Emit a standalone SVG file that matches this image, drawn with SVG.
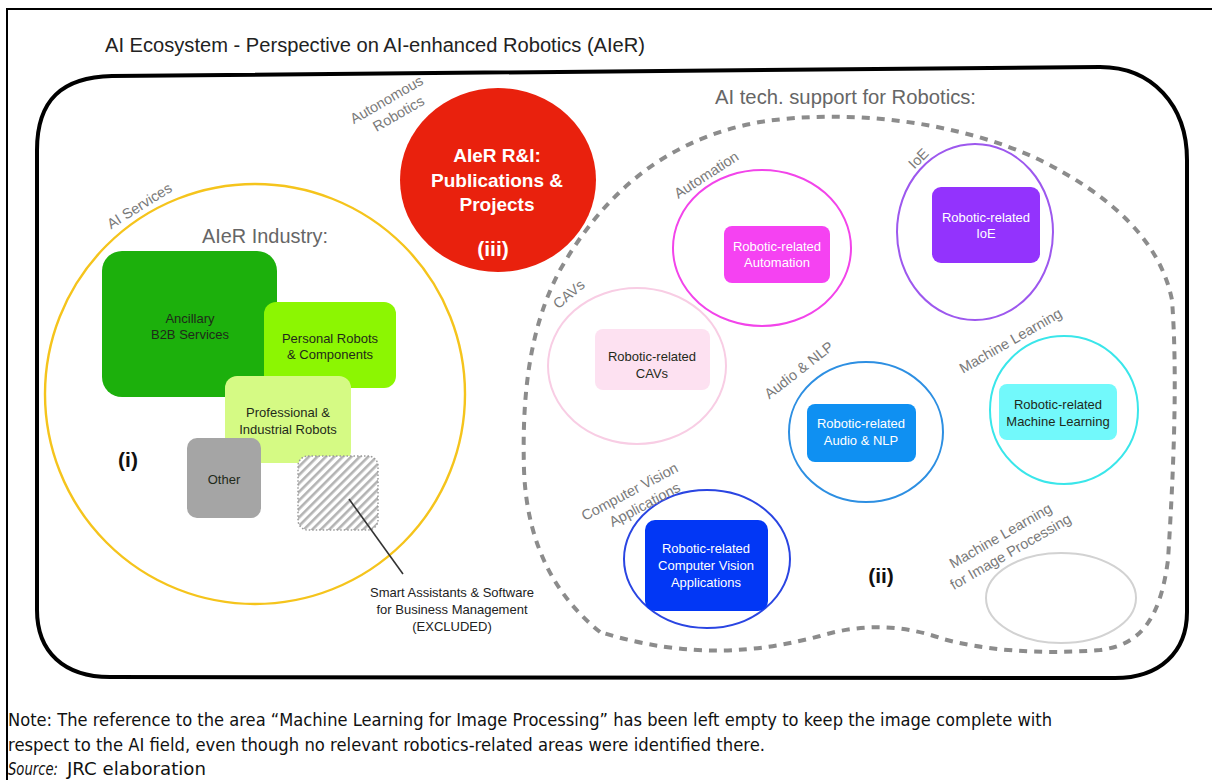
<svg xmlns="http://www.w3.org/2000/svg" width="1212" height="780" viewBox="0 0 1212 780">
  <defs>
    <pattern id="hatch" patternUnits="userSpaceOnUse" width="6" height="6" patternTransform="rotate(45)">
      <rect width="6" height="6" fill="#ffffff"/>
      <rect x="0" y="0" width="2.6" height="6" fill="#b3b3b3"/>
    </pattern>
    <style>
      .sans { font-family: "Liberation Sans", Arial, Helvetica, sans-serif; }
      .tag { font-family: "Liberation Sans", Arial, sans-serif; font-size: 14.5px; fill: #7a7a7a; text-anchor: middle; }
      .head { font-family: "Liberation Sans", Arial, sans-serif; font-size: 20px; fill: #666666; }
      .box-txt { font-family: "Liberation Sans", Arial, sans-serif; font-size: 13px; text-anchor: middle; }
      .dark { fill: #1f2a1a; }
      .white { fill: #ffffff; }
      .roman { font-family: "Liberation Sans", Arial, sans-serif; font-weight: bold; font-size: 21px; fill: #111111; text-anchor: middle; }
      .ring { fill: none; stroke-width: 2; }
      .note { font-family: "DejaVu Sans", "Liberation Sans", sans-serif; font-size: 17px; fill: #111111; }
    </style>
  </defs>

  <rect width="1212" height="780" fill="#ffffff"/>

  <!-- page frame -->
  <path d="M1212 9 H7 V780" fill="none" stroke="#000" stroke-width="2"/>

  <!-- title -->
  <text class="sans" x="105" y="52" font-size="20" fill="#222" textLength="540" lengthAdjust="spacingAndGlyphs">AI Ecosystem - Perspective on AI-enhanced Robotics (AIeR)</text>

  <!-- ecosystem boundary -->
  <path id="ecosystem" d="M37 150 C37 100 62 77 112 76 L1100 67 C1152 67 1187 105 1187 160 L1187 612 C1187 652 1160 678 1115 678 L110 677 C64 677 37 652 37 610 Z" fill="none" stroke="#000" stroke-width="4"/>

  <!-- AI tech support region -->
  <path id="tech-region" d="M600 632 C560 600 527 550 524 470 C522 400 528 330 560 270 C600 200 660 140 760 122 C850 108 960 122 1040 160 C1110 195 1160 240 1172 300 C1178 380 1173 480 1168 560 C1160 620 1140 645 1100 650 C1040 655 980 650 940 638 C900 624 860 624 820 636 C760 652 690 660 600 632 Z" fill="none" stroke="#8c8c8c" stroke-width="4" stroke-dasharray="8 7"/>
  <text class="head" x="715" y="104" textLength="261" lengthAdjust="spacingAndGlyphs">AI tech. support for Robotics:</text>

  <!-- (i) AIeR Industry -->
  <g id="industry">
    <circle cx="255" cy="394" r="210" fill="none" stroke="#f5c41c" stroke-width="2.4"/>
    <text class="tag" transform="translate(142 210) rotate(-32)">AI Services</text>
    <text class="head" x="202" y="243" textLength="126" lengthAdjust="spacingAndGlyphs">AIeR Industry:</text>
    <text class="roman" x="128" y="467">(i)</text>
  </g>

  <g id="ancillary">
    <rect x="102" y="251" width="175" height="146" rx="20" fill="#1cb00c"/>
    <text class="box-txt dark" x="190" y="323">Ancillary</text>
    <text class="box-txt dark" x="190" y="339">B2B Services</text>
  </g>

  <g id="personal">
    <rect x="264" y="302" width="132" height="86" rx="12" fill="#8cf602"/>
    <text class="box-txt dark" x="330" y="343">Personal Robots</text>
    <text class="box-txt dark" x="330" y="359">&amp; Components</text>
  </g>

  <g id="professional">
    <rect x="225" y="376" width="126" height="87" rx="12" fill="#d5fa84"/>
    <text class="box-txt dark" x="288" y="417">Professional &amp;</text>
    <text class="box-txt dark" x="288" y="434">Industrial Robots</text>
  </g>

  <g id="other">
    <rect x="187" y="438" width="74" height="80" rx="10" fill="#a5a5a5"/>
    <text class="box-txt dark" x="224" y="484">Other</text>
  </g>

  <g id="excluded">
    <rect x="298" y="456" width="80" height="74" rx="10" fill="url(#hatch)" stroke="#9a9a9a" stroke-width="1.5" stroke-dasharray="1.5 2"/>
    <text class="box-txt" fill="#222" x="452" y="597">Smart Assistants &amp; Software</text>
    <text class="box-txt" fill="#222" x="452" y="614">for Business Management</text>
    <text class="box-txt" fill="#222" x="452" y="631">(EXCLUDED)</text>
  </g>

  <!-- (iii) research & innovation -->
  <g id="research">
    <ellipse cx="498" cy="180" rx="98" ry="92" fill="#e9210d"/>
    <text class="tag" transform="translate(389 104) rotate(-30)">Autonomous</text>
    <text class="tag" transform="translate(401 118) rotate(-30)">Robotics</text>
    <text class="sans" x="497" y="162" font-size="19" font-weight="bold" fill="#fff" text-anchor="middle">AIeR R&amp;I:</text>
    <text class="sans" x="497" y="187" font-size="19" font-weight="bold" fill="#fff" text-anchor="middle">Publications &amp;</text>
    <text class="sans" x="497" y="211" font-size="19" font-weight="bold" fill="#fff" text-anchor="middle">Projects</text>
    <text class="roman" x="493" y="256" style="fill:#fff">(iii)</text>
  </g>

  <!-- (ii) technology areas -->
  <g id="automation">
    <ellipse class="ring" cx="762" cy="248" rx="89" ry="78" stroke="#f244ea"/>
    <text class="tag" transform="translate(709 179) rotate(-33)">Automation</text>
    <rect x="724" y="226" width="106" height="57" rx="8" fill="#f542f2"/>
    <text class="box-txt white" x="777" y="251">Robotic-related</text>
    <text class="box-txt white" x="777" y="267">Automation</text>
  </g>

  <g id="ioe">
    <ellipse class="ring" cx="975" cy="232" rx="78" ry="88" stroke="#9d58ee"/>
    <text class="tag" transform="translate(922 162) rotate(-45)">IoE</text>
    <rect x="932" y="187" width="108" height="76" rx="9" fill="#9333fd"/>
    <text class="box-txt white" x="986" y="222">Robotic-related</text>
    <text class="box-txt white" x="986" y="238">IoE</text>
  </g>

  <g id="cavs">
    <ellipse class="ring" cx="637" cy="366" rx="89" ry="78" stroke="#f8cde4"/>
    <text class="tag" transform="translate(572 298) rotate(-40)">CAVs</text>
    <rect x="595" y="329" width="115" height="61" rx="8" fill="#fde1f1"/>
    <text class="box-txt dark" x="652" y="361">Robotic-related</text>
    <text class="box-txt dark" x="652" y="378">CAVs</text>
  </g>

  <g id="audio-nlp">
    <ellipse class="ring" cx="866" cy="432" rx="77" ry="70" stroke="#2d8fe2"/>
    <text class="tag" transform="translate(802 374) rotate(-38)">Audio &amp; NLP</text>
    <rect x="807" y="404" width="109" height="58" rx="8" fill="#0f90f2"/>
    <text class="box-txt white" x="861" y="428">Robotic-related</text>
    <text class="box-txt white" x="861" y="445">Audio &amp; NLP</text>
  </g>

  <g id="machine-learning">
    <ellipse class="ring" cx="1064" cy="410" rx="74" ry="74" stroke="#3ae6ea"/>
    <text class="tag" transform="translate(1013 345) rotate(-30)">Machine Learning</text>
    <rect x="999" y="384" width="118" height="56" rx="8" fill="#72f9fb"/>
    <text class="box-txt dark" x="1058" y="409">Robotic-related</text>
    <text class="box-txt dark" x="1058" y="426">Machine Learning</text>
  </g>

  <g id="computer-vision">
    <ellipse class="ring" cx="707" cy="559" rx="83" ry="69" stroke="#2a45e2"/>
    <text class="tag" transform="translate(632 496) rotate(-28)">Computer Vision</text>
    <text class="tag" transform="translate(647 509) rotate(-28)">Applications</text>
    <rect x="645" y="520" width="123" height="91" rx="10" fill="#0237f5"/>
    <text class="box-txt white" x="706" y="553">Robotic-related</text>
    <text class="box-txt white" x="706" y="570">Computer Vision</text>
    <text class="box-txt white" x="706" y="587">Applications</text>
  </g>

  <g id="ml-image">
    <ellipse class="ring" cx="1061" cy="598" rx="75" ry="45" stroke="#d2d2d2"/>
    <text class="tag" transform="translate(1003 540) rotate(-30)">Machine Learning</text>
    <text class="tag" transform="translate(1013 556) rotate(-30)">for Image Processing</text>
  </g>

  <text class="roman" x="881" y="583">(ii)</text>

  <!-- connectors -->
  <g id="connectors">
    <line x1="349" y1="499" x2="403" y2="574" stroke="#333" stroke-width="1.6"/>
  </g>

  <!-- footnote -->
  <text class="note" x="8" y="726" textLength="1044" lengthAdjust="spacingAndGlyphs">Note: The reference to the area “Machine Learning for Image Processing” has been left empty to keep the image complete with</text>
  <text class="note" x="8" y="751" textLength="757" lengthAdjust="spacingAndGlyphs">respect to the AI field, even though no relevant robotics-related areas were identified there.</text>
  <text class="note" x="8" y="775" font-style="italic" textLength="50" lengthAdjust="spacingAndGlyphs">Source:</text>
  <text class="note" x="67" y="775" textLength="139" lengthAdjust="spacingAndGlyphs">JRC elaboration</text>
</svg>
